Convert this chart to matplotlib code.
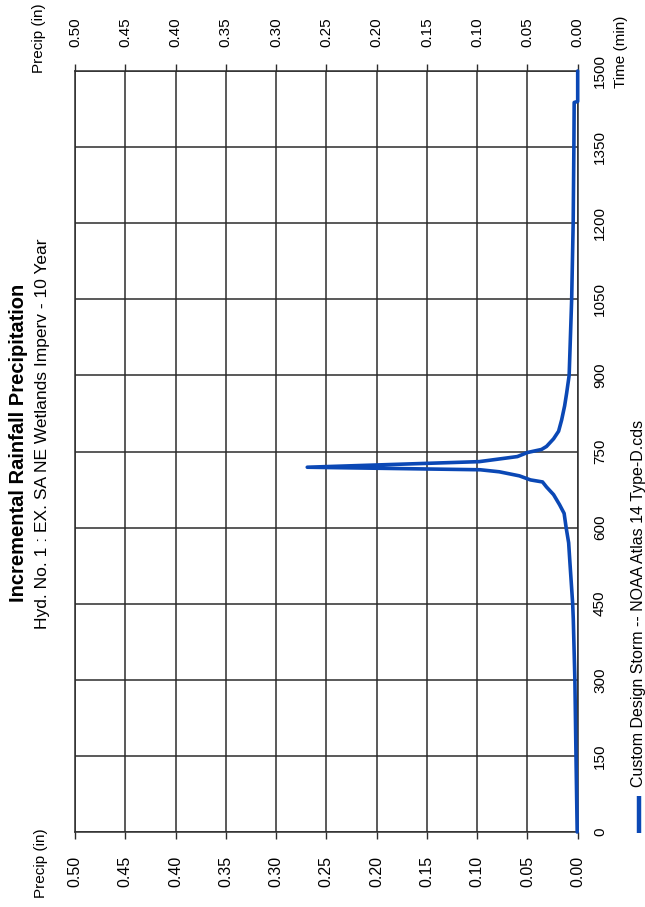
import matplotlib
matplotlib.use('Agg')
import matplotlib.pyplot as plt
from matplotlib.lines import Line2D

# ---- data ----
time_min = [0, 150, 300, 420, 450, 530, 570, 600, 628, 645, 665, 680, 690, 694,
            702, 710, 714, 719, 730, 740, 748, 754, 760, 775, 790, 812, 840, 865,
            900, 960, 1050, 1200, 1350, 1438, 1440, 1500]
precip_in = [0.0005, 0.0017, 0.0028, 0.0044, 0.0050, 0.0077, 0.0090, 0.0115, 0.0135,
             0.018, 0.024, 0.031, 0.035, 0.047, 0.058, 0.078, 0.097, 0.269, 0.098,
             0.060, 0.050, 0.036, 0.031, 0.024, 0.019, 0.016, 0.013, 0.011, 0.0085,
             0.0075, 0.006, 0.0045, 0.0038, 0.0035, 0.0, 0.0]
precip_ticks = [0.00, 0.05, 0.10, 0.15, 0.20, 0.25, 0.30, 0.35, 0.40, 0.45, 0.50]
time_ticks = [0, 150, 300, 450, 600, 750, 900, 1050, 1200, 1350, 1500]

title = "Incremental Rainfall Precipitation"
subtitle = "Hyd. No. 1 : EX. SA NE Wetlands Imperv - 10 Year"
legend_label = "Custom Design Storm -- NOAA Atlas 14 Type-D.cds"
precip_label = "Precip (in)"
time_label = "Time (min)"

plt.rcParams['font.family'] = ['Liberation Sans', 'DejaVu Sans']

W, H = 645, 907
fig = plt.figure(figsize=(W / 100, H / 100), dpi=100)
fig.patch.set_facecolor('white')

L, R, T, B = 75, 577.7, 71, 832
ax = fig.add_axes([L / W, 1 - B / H, (R - L) / W, (B - T) / H])

line_color = '#0b48b5'
grid_color = '#2c2c2c'

ax.plot(precip_in, time_min, color=line_color, lw=2.6, solid_joinstyle='round',
        solid_capstyle='round', zorder=3, clip_on=False)
ax.set_xlim(0.5, 0.0)
ax.set_ylim(0, 1500)

ax.set_xticks(precip_ticks)
ax.set_xticklabels([f"{v:.2f}" for v in precip_ticks])
ax.tick_params(axis='x', top=True, bottom=True, labeltop=True, labelbottom=True,
               direction='out', length=5, width=1.0, color=grid_color, pad=12)
for t in ax.xaxis.get_major_ticks():
    t.label1.set_rotation(90)
    t.label1.set_fontsize(11.5)
    t.label2.set_rotation(90)
    t.label2.set_fontsize(11)

ax.yaxis.tick_right()
ax.set_yticks(time_ticks)
ax.set_yticklabels([str(v) for v in time_ticks], rotation=90, va='center')
ax.tick_params(axis='y', right=True, left=False, direction='out', length=0,
               labelsize=11, pad=11)

ax.grid(True, color=grid_color, lw=1.1)
for s in ax.spines.values():
    s.set_color(grid_color)
    s.set_linewidth(1.1)

# titles
fig.text(19 / W, 1 - 443 / H, title, rotation=90, fontweight='bold', fontsize=14.5,
         ha='center', va='center')
fig.text(43 / W, 1 - 434 / H, subtitle, rotation=90, fontsize=12.5,
         ha='center', va='center')

# axis labels
fig.text(41 / W, 1 - 863 / H, precip_label, rotation=90, fontsize=11,
         ha='center', va='center')
fig.text(39 / W, 1 - 38 / H, precip_label, rotation=90, fontsize=11,
         ha='center', va='center')
fig.text(621 / W, 1 - 52 / H, time_label, rotation=90, fontsize=11,
         ha='center', va='center')

# legend (rotated)
lx = 638.5
fig.add_artist(Line2D([lx / W, lx / W], [1 - 833 / H, 1 - 796 / H],
                      transform=fig.transFigure, color=line_color, lw=3.2,
                      solid_capstyle='butt'))
fig.text(lx / W, 1 - 787 / H, legend_label, rotation=90, fontsize=11.5,
         ha='center', va='bottom')

fig.savefig('out.png', dpi=100, facecolor='white')
